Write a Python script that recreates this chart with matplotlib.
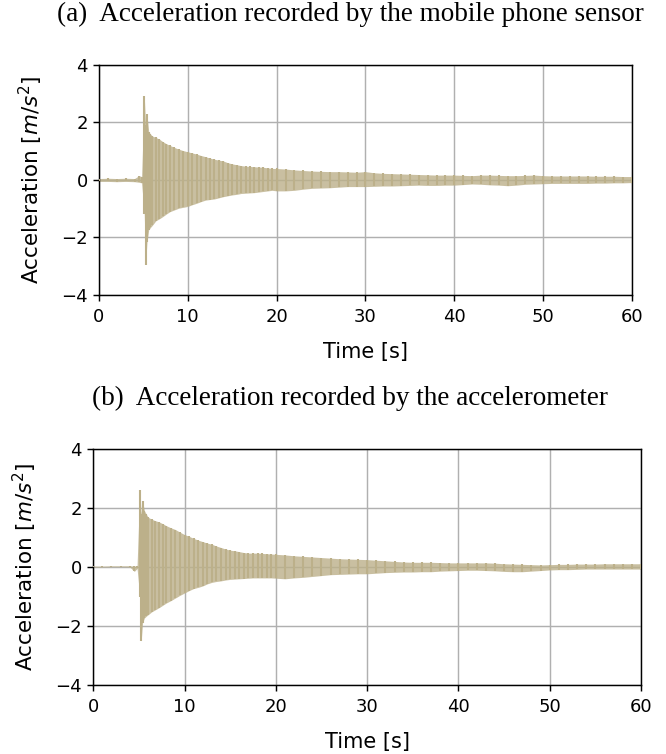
import numpy as np
import matplotlib.pyplot as plt

t = [0, 1, 2, 3, 4, 4.5, 4.8, 5.1, 5.25, 5.4, 5.6, 5.8, 6.0, 6.4, 6.8, 7.2, 7.6,
     8.0, 8.5, 9.0, 9.5, 10.0, 10.5, 11.0, 11.5, 12.0, 12.5, 13.0, 13.5, 14.0,
     14.5, 15.0, 15.5, 16.0, 16.5, 17.0, 17.5, 18.0, 18.5, 19.0, 19.5,
     20, 21, 22, 23, 24, 25, 26, 27, 28, 29, 30, 31, 32, 33, 34, 35, 36, 37,
     38, 39, 40, 41, 42, 43, 44, 45, 46, 47, 48, 49, 50, 51, 52, 53, 54, 55,
     56, 57, 58, 59, 60]

# (a) mobile phone sensor: upper / lower envelope [m/s^2]
phone_up = [0.05, 0.06, 0.05, 0.06, 0.05, 0.15, 0.12, 2.91, 1.9, 2.29, 1.68, 1.6,
            1.53, 1.48, 1.42, 1.33, 1.26, 1.2, 1.13, 1.07, 1.02, 0.98, 0.94, 0.9,
            0.85, 0.81, 0.76, 0.72, 0.69, 0.66, 0.6, 0.56, 0.53, 0.5, 0.48, 0.47,
            0.46, 0.45, 0.44, 0.42, 0.40,
            0.40, 0.38, 0.35, 0.33, 0.31, 0.30, 0.29, 0.29, 0.28, 0.27, 0.29,
            0.25, 0.23, 0.22, 0.21, 0.20, 0.19, 0.18, 0.17, 0.17, 0.17, 0.16,
            0.15, 0.17, 0.17, 0.16, 0.15, 0.15, 0.16, 0.17, 0.15, 0.14, 0.14,
            0.14, 0.14, 0.14, 0.13, 0.13, 0.13, 0.12, 0.12]
phone_lo = [-0.05, -0.05, -0.06, -0.05, -0.06, -0.08, -0.10, -1.2, -2.95, -2.17,
            -1.73, -1.65, -1.58, -1.42, -1.35, -1.27, -1.18, -1.1, -1.04, -0.98,
            -0.95, -0.92, -0.86, -0.81, -0.75, -0.7, -0.68, -0.66, -0.62, -0.58,
            -0.55, -0.52, -0.5, -0.47, -0.46, -0.45, -0.44, -0.42, -0.40, -0.38,
            -0.36,
            -0.38, -0.38, -0.36, -0.32, -0.29, -0.28, -0.27, -0.25, -0.23, -0.23,
            -0.23, -0.22, -0.21, -0.21, -0.20, -0.19, -0.18, -0.19, -0.19, -0.18,
            -0.18, -0.16, -0.14, -0.15, -0.17, -0.18, -0.20, -0.18, -0.15, -0.14,
            -0.13, -0.12, -0.12, -0.12, -0.12, -0.12, -0.11, -0.11, -0.10, -0.10,
            -0.09]

# (b) accelerometer: upper / lower envelope [m/s^2]
acc_up = [0.03, 0.03, 0.04, 0.04, 0.04, 0.02, 0.05, 2.62, 1.8, 2.25, 1.91, 1.8,
          1.69, 1.62, 1.57, 1.53, 1.47, 1.4, 1.33, 1.27, 1.18, 1.1, 1.04, 0.97,
          0.91, 0.86, 0.81, 0.77, 0.71, 0.66, 0.61, 0.57, 0.55, 0.52, 0.49, 0.47,
          0.47, 0.47, 0.46, 0.45, 0.44,
          0.43, 0.41, 0.38, 0.36, 0.34, 0.32, 0.30, 0.28, 0.27, 0.26, 0.25,
          0.23, 0.21, 0.19, 0.17, 0.16, 0.16, 0.16, 0.15, 0.14, 0.14, 0.14,
          0.14, 0.14, 0.13, 0.11, 0.10, 0.09, 0.08, 0.07, 0.08, 0.09, 0.09,
          0.10, 0.10, 0.10, 0.11, 0.11, 0.11, 0.11, 0.11]
acc_lo = [0.0, 0.0, 0.01, 0.01, 0.0, -0.15, -0.05, -1.0, -2.52, -1.9, -1.73,
          -1.67, -1.62, -1.52, -1.45, -1.38, -1.3, -1.22, -1.14, -1.05, -0.96,
          -0.88, -0.8, -0.73, -0.69, -0.64, -0.57, -0.52, -0.49, -0.47, -0.44,
          -0.42, -0.41, -0.4, -0.39, -0.38, -0.37, -0.37, -0.37, -0.37, -0.37,
          -0.38, -0.40, -0.37, -0.35, -0.32, -0.29, -0.26, -0.25, -0.24, -0.23,
          -0.23, -0.21, -0.19, -0.18, -0.17, -0.17, -0.16, -0.16, -0.14, -0.13,
          -0.12, -0.11, -0.11, -0.12, -0.13, -0.15, -0.16, -0.16, -0.14, -0.12,
          -0.10, -0.09, -0.09, -0.08, -0.07, -0.07, -0.07, -0.07, -0.07, -0.07,
          -0.07]

titles = ["(a)  Acceleration recorded by the mobile phone sensor",
          "(b)  Acceleration recorded by the accelerometer"]

col = '#bcb08a'
s = 1.3  # overall scale of the original rendering
plt.rcParams['font.size'] = 13
plt.rcParams['axes.linewidth'] = 0.8 * s
plt.rcParams['xtick.major.width'] = 0.8 * s
plt.rcParams['ytick.major.width'] = 0.8 * s
plt.rcParams['xtick.major.size'] = 3.5 * s
plt.rcParams['ytick.major.size'] = 3.5 * s
plt.rcParams['xtick.major.pad'] = 4.5

fig = plt.figure(figsize=(6.66, 7.54), dpi=100)
ax_a = fig.add_axes([0.1486, 0.6088, 0.8003, 0.305])
ax_b = fig.add_axes([0.1400, 0.0915, 0.8225, 0.313])

for ax, up, lo in [(ax_a, phone_up, phone_lo), (ax_b, acc_up, acc_lo)]:
    ax.fill_between(t, lo, up, color=col, alpha=0.8, lw=0, zorder=2)
    ax.vlines(t, lo, up, color=col, lw=1.5, zorder=3)
    ax.set_xlim(0, 60)
    ax.set_ylim(-4, 4)
    ax.set_xticks([0, 10, 20, 30, 40, 50, 60])
    ax.set_yticks([-4, -2, 0, 2, 4])
    ax.grid(True, color='#b0b0b0', lw=0.8 * s, zorder=1)
    ax.set_axisbelow(True)
    ax.set_xlabel('Time [s]', fontsize=15, labelpad=12)
    ax.set_ylabel('Acceleration [$m/s^2$]', fontsize=15.5)

ax_a.yaxis.set_label_coords(-0.102, 0.5)
ax_b.yaxis.set_label_coords(-0.099, 0.5)

fig.text(0.526, 0.981, titles[0], ha='center', va='center',
         family='Liberation Serif', fontsize=19.5)
fig.text(0.525, 0.472, titles[1], ha='center', va='center',
         family='Liberation Serif', fontsize=19.5)

fig.savefig('out.png', dpi=100)
